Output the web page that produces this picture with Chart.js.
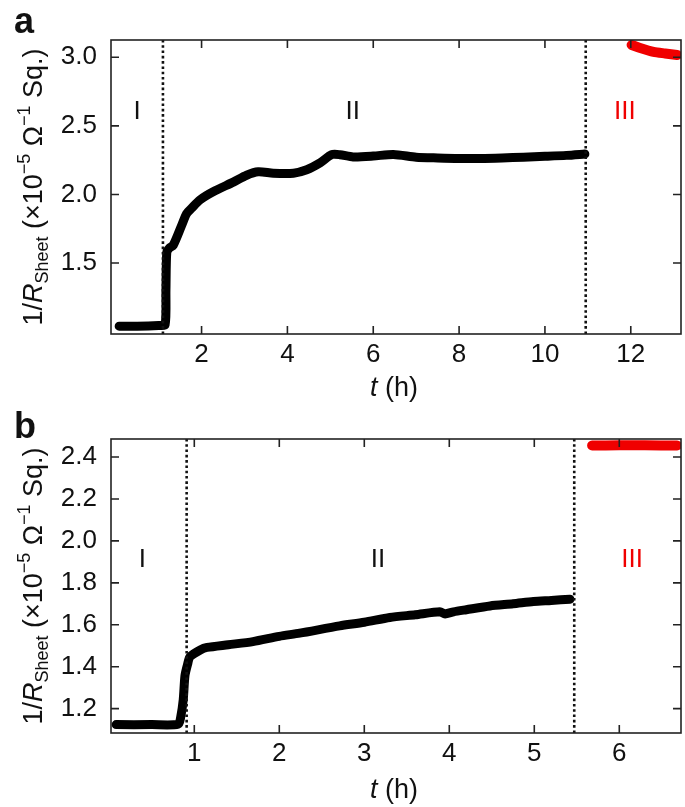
<!DOCTYPE html>
<html>
<head>
<meta charset="utf-8">
<script src="https://cdn.jsdelivr.net/npm/chart.js@4.4.1/dist/chart.umd.min.js"></script>
<style>
  html, body { margin: 0; padding: 0; background: #fff; }
  .panel { position: absolute; left: 0; width: 685px; }
  #pa { top: 0; height: 403px; }
  #pb { top: 403px; height: 404px; }
</style>
</head>
<body>
<div class="panel" id="pa"><canvas id="graficaA"></canvas></div>
<div class="panel" id="pb"><canvas id="graficaB"></canvas></div>
<script>
// Datos del panel a (tiempo en horas, 1/R en 1e-5 S)
const tA = [0.08, 0.5, 1.0, 1.15, 1.17, 1.19, 1.25, 1.34, 1.53, 1.65, 1.77, 1.96, 2.27, 2.74, 3.05, 3.32, 3.67, 4.14, 4.45, 4.76, 5.03, 5.22, 5.53, 6.0, 6.47, 7.0, 7.5, 8.0, 8.5, 9.0, 9.5, 10.0, 10.5, 10.93];
const yA = [1.04, 1.04, 1.045, 1.05, 1.3, 1.58, 1.61, 1.63, 1.77, 1.86, 1.9, 1.96, 2.02, 2.09, 2.14, 2.165, 2.155, 2.155, 2.18, 2.23, 2.29, 2.29, 2.274, 2.28, 2.292, 2.272, 2.266, 2.262, 2.262, 2.266, 2.272, 2.278, 2.285, 2.295];
const tA3 = [12.02, 12.2, 12.53, 12.8, 13.08];
const yA3 = [3.09, 3.07, 3.04, 3.028, 3.017];
const lineasA = [1.1, 10.95];
const ticksXA = [2, 4, 6, 8, 10, 12];
const ticksYA = [1.5, 2.0, 2.5, 3.0];

// Datos del panel b
const tB = [0.08, 0.5, 0.81, 0.84, 0.87, 0.89, 0.92, 0.95, 1.07, 1.15, 1.4, 1.69, 2.0, 2.24, 2.71, 3.0, 3.3, 3.6, 3.89, 3.95, 4.05, 4.2, 4.48, 4.75, 4.99, 5.2, 5.42];
const yB = [1.124, 1.124, 1.126, 1.16, 1.243, 1.357, 1.41, 1.448, 1.48, 1.492, 1.505, 1.52, 1.545, 1.56, 1.595, 1.612, 1.635, 1.648, 1.662, 1.652, 1.662, 1.672, 1.69, 1.7, 1.711, 1.716, 1.722];
const tB3 = [5.68, 6.0, 6.3, 6.68];
const yB3 = [2.455, 2.456, 2.456, 2.455];
const lineasB = [0.91, 5.47];
const ticksXB = [1, 2, 3, 4, 5, 6];
const ticksYB = [1.2, 1.4, 1.6, 1.8, 2.0, 2.2, 2.4];

const FUENTE = '"Liberation Sans", Arial, Helvetica, sans-serif';
const ROJO = 'rgb(240, 0, 0)';

// Convierte dos arreglos en puntos {x, y}
function puntos(xs, ys) {
    return xs.map((x, i) => ({ x: x, y: ys[i] }));
}

// Título del eje y con subíndice y superíndices
function tituloY(ctx, bx, cy) {
    let partes = [
        { t: '1/', f: '27px' , dy: 0 },
        { t: 'R', f: 'italic 27px', dy: 0 },
        { t: 'Sheet', f: '18px', dy: 6 },
        { t: ' (×10', f: '27px', dy: 0 },
        { t: '−5', f: '18px', dy: -12 },
        { t: ' Ω', f: '27px', dy: 0 },
        { t: '−1', f: '18px', dy: -12 },
        { t: ' Sq.)', f: '27px', dy: 0 }
    ];
    let total = 0;
    partes.forEach(p => {
        ctx.font = p.f + ' ' + FUENTE;
        p.w = ctx.measureText(p.t).width;
        total += p.w;
    });
    ctx.save();
    ctx.translate(bx, cy);
    ctx.rotate(-Math.PI / 2);
    ctx.fillStyle = '#111';
    ctx.textBaseline = 'alphabetic';
    ctx.textAlign = 'left';
    let x = -total / 2;
    partes.forEach(p => {
        ctx.font = p.f + ' ' + FUENTE;
        ctx.fillText(p.t, x, p.dy);
        x += p.w;
    });
    ctx.restore();
}

// Título del eje x: "t (h)" con t en cursiva
function tituloX(ctx, cx, by) {
    ctx.save();
    ctx.fillStyle = '#111';
    ctx.textBaseline = 'alphabetic';
    ctx.font = 'italic 27px ' + FUENTE;
    let w1 = ctx.measureText('t').width;
    ctx.font = '27px ' + FUENTE;
    let w2 = ctx.measureText(' (h)').width;
    let x = cx - (w1 + w2) / 2;
    ctx.font = 'italic 27px ' + FUENTE;
    ctx.fillText('t', x, by);
    ctx.font = '27px ' + FUENTE;
    ctx.fillText(' (h)', x + w1, by);
    ctx.restore();
}

// Plugin para el marco, las marcas hacia dentro y los textos
const marco = {
    id: 'marco',
    afterDraw(chart, args, opts) {
        let ctx = chart.ctx;
        let a = chart.chartArea;
        let sx = chart.scales.x;
        let sy = chart.scales.y;
        ctx.save();
        ctx.strokeStyle = '#222';
        ctx.lineWidth = 1.6;
        ctx.strokeRect(a.left, a.top, a.right - a.left, a.bottom - a.top);
        ctx.beginPath();
        sx.ticks.forEach(t => {
            let px = sx.getPixelForValue(t.value);
            ctx.moveTo(px, a.bottom); ctx.lineTo(px, a.bottom - 8);
            ctx.moveTo(px, a.top); ctx.lineTo(px, a.top + 8);
        });
        sy.ticks.forEach(t => {
            let py = sy.getPixelForValue(t.value);
            ctx.moveTo(a.left, py); ctx.lineTo(a.left + 8, py);
            ctx.moveTo(a.right, py); ctx.lineTo(a.right - 8, py);
        });
        ctx.stroke();

        // Etiquetas de las regiones I, II, III
        ctx.font = '26px ' + FUENTE;
        ctx.textAlign = 'center';
        ctx.textBaseline = 'middle';
        opts.regiones.forEach((r, i) => {
            ctx.fillStyle = i === 2 ? ROJO : '#111';
            ctx.fillText(r, sx.getPixelForValue(opts.posX[i]), sy.getPixelForValue(opts.posY));
        });

        // Letra del panel
        ctx.font = 'bold 36px ' + FUENTE;
        ctx.textAlign = 'left';
        ctx.textBaseline = 'alphabetic';
        ctx.fillStyle = '#111';
        ctx.fillText(opts.letra, 14, opts.letraY);
        ctx.restore();

        tituloY(ctx, 42, (a.top + a.bottom) / 2);
        tituloX(ctx, 394, opts.tituloXY);
    }
};

function crearPanel(id, cfg) {
    let ctx = document.getElementById(id).getContext('2d');
    // Líneas punteadas que separan las regiones
    let lineas = cfg.lineas.map(v => ({
        data: [{ x: v, y: cfg.yMin }, { x: v, y: cfg.yMax }],
        showLine: true,
        borderColor: '#111',
        borderWidth: 2.6,
        borderDash: [2.6, 2.7],
        borderCapStyle: 'butt',
        pointRadius: 0
    }));
    let datasets = lineas.concat([
        {
            data: puntos(cfg.t, cfg.y),
            showLine: true,
            borderColor: '#000',
            borderWidth: 9,
            borderCapStyle: 'round',
            borderJoinStyle: 'round',
            tension: 0.25,
            pointRadius: 0
        },
        {
            data: puntos(cfg.t3, cfg.y3),
            showLine: true,
            borderColor: ROJO,
            borderWidth: 10,
            borderCapStyle: 'round',
            borderJoinStyle: 'round',
            tension: 0.25,
            pointRadius: 0
        }
    ]);

    return new Chart(ctx, {
        type: 'scatter',
        data: { datasets: datasets },
        plugins: [marco],
        options: {
            responsive: true,
            maintainAspectRatio: false,
            animation: false,
            layout: { padding: { left: 0, right: 4, top: cfg.arriba, bottom: 0 } },
            plugins: {
                legend: { display: false },
                tooltip: { enabled: false },
                marco: {
                    regiones: ['I', 'II', 'III'],
                    posX: cfg.posX,
                    posY: cfg.posY,
                    letra: cfg.letra,
                    letraY: cfg.letraY,
                    tituloXY: cfg.tituloXY
                }
            },
            scales: {
                x: {
                    type: 'linear',
                    min: cfg.xMin,
                    max: cfg.xMax,
                    afterBuildTicks: s => { s.ticks = cfg.ticksX.map(v => ({ value: v })); },
                    afterFit: s => { s.height = cfg.altoX; },
                    grid: { display: false, drawTicks: false },
                    border: { display: false },
                    ticks: {
                        color: '#111',
                        padding: 5,
                        maxRotation: 0,
                        autoSkip: false,
                        font: { family: FUENTE, size: 26 },
                        callback: v => String(v)
                    }
                },
                y: {
                    type: 'linear',
                    min: cfg.yMin,
                    max: cfg.yMax,
                    afterBuildTicks: s => { s.ticks = cfg.ticksY.map(v => ({ value: v })); },
                    afterFit: s => { s.width = 111; },
                    grid: { display: false, drawTicks: false },
                    border: { display: false },
                    ticks: {
                        color: '#111',
                        padding: 14,
                        autoSkip: false,
                        font: { family: FUENTE, size: 26 },
                        callback: v => Number(v).toFixed(1)
                    }
                }
            }
        }
    });
}

crearPanel('graficaA', {
    t: tA, y: yA, t3: tA3, y3: yA3, lineas: lineasA,
    ticksX: ticksXA, ticksY: ticksYA,
    xMin: -0.11, xMax: 13.17, yMin: 0.983, yMax: 3.126,
    arriba: 40, altoX: 69,
    posX: [0.5, 5.52, 11.86], posY: 2.6,
    letra: 'a', letraY: 33, tituloXY: 396
});

crearPanel('graficaB', {
    t: tB, y: yB, t3: tB3, y3: yB3, lineas: lineasB,
    ticksX: ticksXB, ticksY: ticksYB,
    xMin: 0.02, xMax: 6.726, yMin: 1.084, yMax: 2.486,
    arriba: 36, altoX: 74,
    posX: [0.39, 3.16, 6.15], posY: 1.91,
    letra: 'b', letraY: 35, tituloXY: 395
});
</script>
</body>
</html>
